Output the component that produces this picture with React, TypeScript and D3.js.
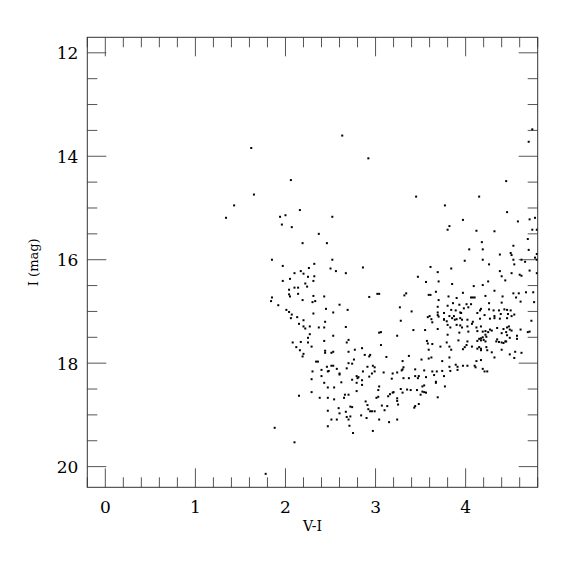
import React, { Component } from 'react';
import * as d3 from 'd3';

// V-I colour and I magnitude of each star
const stars: [number, number][] = [
  [2.63,13.60],[1.62,13.84],[2.92,14.04],[2.06,14.46],[1.65,14.74],[1.43,14.95],[2.16,15.04],[1.34,15.19],
  [1.94,15.17],[2.00,15.14],[2.52,15.17],[1.96,15.32],[2.07,15.37],[2.37,15.50],[2.19,15.68],[2.46,15.68],
  [1.85,16.00],[2.52,16.00],[1.97,16.12],[2.32,16.08],[2.26,16.16],[2.50,16.17],[2.56,16.22],[2.86,16.15],
  [2.67,16.26],[2.10,16.26],[2.17,16.22],[2.20,16.27],[2.25,16.33],[2.32,16.32],[2.05,16.37],[4.74,13.48],
  [4.70,13.72],[1.97,16.41],[2.04,16.58],[2.04,16.67],[2.05,16.71],[1.85,16.73],[1.84,16.80],[1.92,16.88],
  [2.01,16.97],[2.04,17.01],[1.88,19.25],[2.10,19.53],[1.78,20.14],
  [2.31,16.41],[2.22,16.46],[2.24,16.52],[2.10,16.54],[2.14,16.54],[2.14,16.66],[2.31,16.70],[2.43,16.71],
  [2.19,16.78],[2.33,16.80],[2.30,16.82],[3.02,16.66],[3.04,16.66],[2.93,16.72],[2.60,16.87],[2.69,16.97],
  [2.45,16.95],[2.53,17.02],[2.31,17.04],[2.07,17.06],[2.06,17.13],[2.13,17.11],[2.20,17.17],[2.44,17.20],
  [2.15,17.24],[2.20,17.29],[2.27,17.29],[2.22,17.33],[2.37,17.31],[2.43,17.31],[2.67,17.30],[3.04,17.41],
  [3.06,17.40],[2.27,17.44],[2.25,17.51],[2.53,17.47],[2.70,17.55],[2.68,17.60],[2.43,17.57],[2.08,17.60],
  [2.17,17.59],[2.25,17.60],[2.12,17.69],[2.29,17.68],[3.06,17.65],[2.16,17.75],[2.77,17.74],[2.85,17.71],
  [2.44,17.76],[2.44,17.80],[2.53,17.78],[2.70,17.78],[2.51,17.80],[2.20,17.82],[2.19,17.87],[2.88,17.84],
  [2.94,17.84],[2.93,17.87],[3.12,17.88],[2.76,17.93],[2.34,17.97],[2.36,17.97],[2.70,18.00],[2.74,18.01],
  [2.51,18.05],[2.53,18.05],[2.46,18.07],[2.97,18.05],[2.99,18.08],[2.91,18.07],[2.57,18.11],[2.68,18.10],
  [2.40,18.13],[2.47,18.16],[2.48,18.15],[2.30,18.16],[2.86,18.16],[2.99,18.16],[2.96,18.20],[2.60,18.20],
  [2.60,18.22],[2.40,18.25],[2.93,18.26],[3.09,18.18],[2.79,18.25],[2.81,18.27],[2.80,18.29],[2.74,18.32],
  [2.85,18.33],[2.29,18.31],[2.62,18.37],[2.79,18.38],[2.43,18.38],[2.85,18.42],[2.54,18.47],[2.47,18.47],
  [3.04,18.45],[2.79,18.54],[2.29,18.56],[2.15,18.63],[2.66,18.61],[2.70,18.61],[3.14,18.64],[3.03,18.65],
  [3.01,18.67],[2.65,18.67],[2.38,18.67],[2.47,18.67],[2.54,18.70],[3.03,18.52],[2.89,18.74],[3.07,18.82],
  [3.13,18.83],[2.74,18.85],[2.72,18.84],[2.91,18.81],[2.92,18.89],[2.59,18.87],[2.67,18.94],[2.94,18.93],
  [2.96,18.93],[2.99,18.93],[2.60,18.97],[2.84,19.01],[2.72,19.03],[2.68,19.04],[2.47,18.92],[2.90,19.06],
  [3.04,19.09],[2.51,19.09],[2.57,19.09],[2.70,19.09],[3.15,19.14],[2.71,19.21],[2.47,19.22],[2.97,19.31],
  [2.75,19.35],
  [3.16,18.60],[3.19,18.57],[3.20,18.56],[3.24,18.68],[3.24,18.73],[3.25,18.80],[3.30,18.57],[3.35,18.51],
  [3.39,18.52],[3.43,18.86],[3.44,18.83],[3.48,18.79],[3.50,18.61],[3.52,18.45],[3.54,18.43],[3.52,18.55],
  [3.54,18.56],[3.56,18.57],[3.67,18.38],[3.69,18.66],[3.77,18.45],[3.24,19.09],[3.10,18.91],[3.46,18.52],
  [3.28,18.50],
  [3.28,17.18],[3.24,17.47],[3.42,17.36],[3.55,17.36],[3.58,17.11],[3.60,17.09],[3.63,17.21],[3.70,17.10],
  [3.76,17.16],[3.79,17.19],[3.85,17.13],[3.87,17.09],[3.88,17.16],[3.90,17.15],[3.94,17.13],[3.96,17.16],
  [4.02,17.16],[4.08,17.20],[4.27,17.14],[4.32,17.13],[4.38,17.14],[4.46,17.13],[4.51,17.09],[4.73,17.18],
  [3.69,17.34],[3.80,17.26],[3.83,17.31],[3.90,17.26],[3.94,17.27],[3.96,17.31],[4.02,17.29],[4.07,17.24],
  [4.12,17.31],[4.17,17.29],[3.93,17.41],[4.03,17.39],[4.13,17.38],[4.19,17.39],[4.22,17.38],[4.25,17.40],
  [4.27,17.35],[4.29,17.37],[4.35,17.32],[4.42,17.34],[4.46,17.31],[4.48,17.29],[4.49,17.35],[4.51,17.37],
  [4.45,17.40],[4.40,17.42],[4.61,17.35],[4.69,17.40],[4.71,17.39],[3.80,17.45],[4.22,17.45],[4.23,17.49],
  [4.15,17.53],[4.17,17.52],[4.19,17.50],[4.13,17.57],[4.17,17.56],[4.20,17.55],[4.22,17.58],[4.35,17.54],
  [4.34,17.58],[4.37,17.59],[4.40,17.60],[4.42,17.61],[4.44,17.58],[4.45,17.58],[4.49,17.51],[4.46,17.46],
  [4.57,17.47],[4.57,17.53],[3.57,17.57],[3.58,17.62],[4.02,17.58],[3.92,17.56],[3.79,17.60],[3.82,17.68],
  [3.84,17.74],[3.63,17.63],[3.72,17.68],[4.01,17.65],[3.99,17.69],[3.97,17.73],[4.07,17.68],[4.13,17.72],
  [4.15,17.69],[4.17,17.72],[4.23,17.69],[4.24,17.75],[4.17,17.75],[3.59,17.74],[4.29,17.79],[4.40,17.74],
  [4.55,17.78],[4.62,17.80],[4.49,17.83],[4.32,17.89],[4.54,17.90],[3.62,17.89],[3.59,17.91],[3.51,17.93],
  [3.37,17.86],[3.82,17.89],[4.12,17.96],[4.17,17.94],[3.74,17.96],[3.89,18.03],[3.91,18.07],[3.97,18.05],
  [4.02,18.05],[4.10,18.05],[4.11,18.08],[3.82,18.07],[3.30,17.96],[3.31,18.08],[3.30,18.12],[3.29,18.14],
  [3.19,18.20],[3.24,18.18],[3.44,18.12],[3.54,18.14],[3.63,18.16],[3.68,18.16],[3.74,18.15],[3.83,18.15],
  [3.91,18.13],[4.19,18.11],[4.21,18.16],[4.24,18.16],[3.56,18.27],[3.65,18.23],[3.76,18.25],[3.44,18.25],
  [3.48,18.25],[3.47,18.29],[3.37,18.29],[3.31,18.29],[3.18,18.30],[3.67,18.36],
  [3.99,16.02],[3.61,16.14],[3.69,16.24],[3.84,16.17],[3.47,16.33],[3.56,16.43],[3.70,16.42],[3.85,16.47],
  [3.34,16.65],[3.32,16.69],[3.59,16.68],[3.61,16.68],[3.67,16.62],[3.97,16.64],[3.81,16.71],[3.90,16.74],
  [3.70,16.78],[3.86,16.84],[3.27,16.92],[3.69,16.91],[3.80,16.89],[3.93,16.87],[3.40,17.00],[3.69,17.02],
  [3.84,16.97],[3.89,16.98],[3.95,17.03],[3.76,17.03],[3.69,17.07],[3.82,17.09],[3.62,17.15],[3.76,17.15],
  [4.19,16.00],[4.38,15.90],[4.50,15.87],[4.51,15.91],[4.53,16.00],[4.62,16.00],[4.66,16.04],[4.54,16.09],
  [4.26,16.09],[4.51,16.26],[4.60,16.29],[4.62,16.31],[4.71,16.21],[4.40,16.32],[4.44,16.40],[4.25,16.42],
  [4.09,16.51],[4.19,16.49],[4.32,16.60],[4.22,16.70],[4.53,16.65],[4.59,16.65],[4.67,16.63],[4.75,16.63],
  [4.06,16.73],[4.08,16.73],[4.10,16.73],[4.41,16.71],[4.56,16.73],[4.01,16.86],[4.06,16.86],[4.26,16.84],
  [4.40,16.83],[4.61,16.81],[4.76,16.82],[3.98,16.94],[4.03,16.92],[4.17,16.95],[4.16,16.98],[4.26,16.96],
  [4.31,16.98],[4.37,16.98],[4.43,16.96],[4.46,16.97],[4.50,16.98],[4.13,17.03],[4.21,17.07],[4.32,17.09],
  [4.39,17.05],[4.47,17.05],[4.54,17.06],[3.94,17.02],[4.16,17.14],
  [4.45,14.48],[3.45,14.78],[4.15,14.78],[3.77,14.95],[4.46,15.08],[3.97,15.23],[4.58,15.26],[4.71,15.22],
  [4.77,15.19],[3.82,15.35],[3.80,15.42],[4.12,15.44],[4.32,15.45],[4.74,15.42],[4.79,15.42],[4.69,15.60],
  [4.18,15.66],[4.53,15.73],[4.04,15.80],[4.19,15.80],[4.70,15.81],[4.79,15.89],[4.77,15.96],[4.79,16.00],
  [4.38,16.22],[4.79,16.26]
];

const xMajor = [0, 1, 2, 3, 4];
const yMajor = [12, 14, 16, 18, 20];
const xLabel = 'V-I';
const yLabel = 'I (mag)';

class App extends Component {
  viz = React.createRef<HTMLDivElement>();

  componentDidMount() {
    this.drawGraph();
  }

  drawGraph = () => {
    const margin = { top: 37.3, left: 87.3 };
    const width = 450.4;
    const height = 450;
    const font = '"DejaVu Serif", serif';

    d3.select(this.viz.current).selectAll('*').remove();

    const svg = d3.select(this.viz.current).append('svg')
      .attr('width', 575)
      .attr('height', 575)
      .style('display', 'block')
      .style('background', '#fff');

    const g = svg.append('g')
      .attr('transform', 'translate(' + margin.left + ',' + margin.top + ')');

    const x = d3.scaleLinear().domain([-0.2, 4.8]).range([0, width]);
    const y = d3.scaleLinear().domain([11.7, 20.4]).range([0, height]);

    // minor + major ticks on all four sides, pointing in
    const xMinor = d3.range(-0.2, 4.81, 0.2).map(v => +v.toFixed(1)).filter(v => !xMajor.includes(v));
    const yMinor = d3.range(12, 20.41, 0.5).filter(v => !yMajor.includes(v));
    const tickColor = '#555';

    const drawXTicks = (vals: number[], len: number) => {
      vals.forEach(v => {
        g.append('line').attr('x1', x(v)).attr('x2', x(v)).attr('y1', height).attr('y2', height - len)
          .attr('stroke', tickColor).attr('stroke-width', 1);
        g.append('line').attr('x1', x(v)).attr('x2', x(v)).attr('y1', 0).attr('y2', len)
          .attr('stroke', tickColor).attr('stroke-width', 1);
      });
    };
    const drawYTicks = (vals: number[], len: number) => {
      vals.forEach(v => {
        g.append('line').attr('x1', 0).attr('x2', len).attr('y1', y(v)).attr('y2', y(v))
          .attr('stroke', tickColor).attr('stroke-width', 1);
        g.append('line').attr('x1', width).attr('x2', width - len).attr('y1', y(v)).attr('y2', y(v))
          .attr('stroke', tickColor).attr('stroke-width', 1);
      });
    };
    drawXTicks(xMinor, 10);
    drawXTicks(xMajor, 19);
    drawYTicks(yMinor, 10);
    drawYTicks(yMajor, 19);

    g.append('rect')
      .attr('width', width)
      .attr('height', height)
      .attr('fill', 'none')
      .attr('stroke', '#333')
      .attr('stroke-width', 1);

    g.append('defs').append('clipPath').attr('id', 'frame')
      .append('rect').attr('width', width).attr('height', height);

    g.append('g')
      .attr('clip-path', 'url(#frame)')
      .selectAll('rect')
      .data(stars)
      .enter()
      .append('rect')
      .attr('x', d => x(d[0]) - 1)
      .attr('y', d => y(d[1]) - 1)
      .attr('width', 2)
      .attr('height', 2)
      .attr('fill', '#000');

    g.selectAll('.xlab')
      .data(xMajor)
      .enter()
      .append('text')
      .attr('class', 'xlab')
      .attr('x', d => x(d))
      .attr('y', height + 26)
      .attr('text-anchor', 'middle')
      .style('font-family', font)
      .style('font-size', '17px')
      .text(d => d);

    g.selectAll('.ylab')
      .data(yMajor)
      .enter()
      .append('text')
      .attr('class', 'ylab')
      .attr('x', -9)
      .attr('y', d => y(d) + 6.5)
      .attr('text-anchor', 'end')
      .style('font-family', font)
      .style('font-size', '17px')
      .text(d => d);

    g.append('text')
      .attr('x', width / 2)
      .attr('y', height + 44)
      .attr('text-anchor', 'middle')
      .style('font-family', font)
      .style('font-size', '14px')
      .text(xLabel);

    g.append('text')
      .attr('transform', 'rotate(-90)')
      .attr('x', -height / 2)
      .attr('y', 37.5 - margin.left)
      .attr('text-anchor', 'middle')
      .style('font-family', font)
      .style('font-size', '13px')
      .text(yLabel);
  }

  render() {
    return (
      <div ref={this.viz} style={{ position: 'absolute', left: 0, top: 0 }}></div>
    );
  }
}

export default App;
